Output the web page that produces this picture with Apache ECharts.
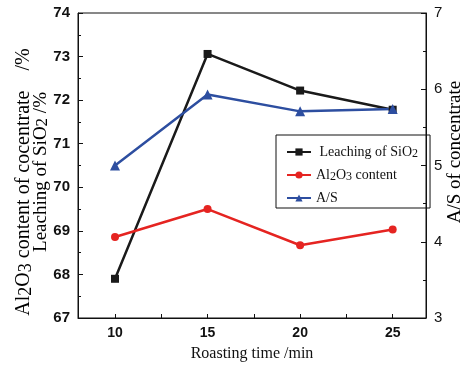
<!DOCTYPE html>
<html>
<head>
<meta charset="utf-8">
<script src="https://cdn.jsdelivr.net/npm/echarts@6/dist/echarts.min.js"></script>
<style>
  html, body { margin: 0; padding: 0; background: #fff; }
  #chart { width: 470px; height: 367px; }
</style>
</head>
<body>
<div id="chart"></div>
<script>
// roasting time (min)
const roastingTime = [10, 15, 20, 25];
// leaching of SiO2 (%), left axis
const leachingSiO2 = [67.9, 73.06, 72.22, 71.78];
// Al2O3 content of concentrate (%), left axis
const al2o3Content = [68.86, 69.5, 68.67, 69.03];
// A/S of concentrate, right axis
const asRatio = [5.0, 5.93, 5.71, 5.74];

const xLabels = [10, 15, 20, 25];
const xTicks = [10, 12.5, 15, 17.5, 20, 22.5, 25];

const serif = '"Liberation Serif", "Times New Roman", serif';
const sans = '"Liberation Sans", Arial, sans-serif';

function subStyles(size) {
  return {
    n: { fontFamily: serif, fontSize: size, color: '#111', lineHeight: size + 2 },
    s: { fontFamily: serif, fontSize: size - 2, color: '#111', lineHeight: size - 4, verticalAlign: 'bottom' }
  };
}

function pairs(xs, ys) {
  return xs.map((x, i) => [x, ys[i]]);
}

const chart = echarts.init(document.getElementById('chart'));

// rotated axis titles, centred on where they sit in the figure
const sideTitles = [
  { cx: 24, cy: 182, size: 20, text: '{n|Al}{s|2}{n|O}{s|3}{n| content of cocentrate    /%}' },
  { cx: 41, cy: 172, size: 19, text: '{n|Leaching of SiO}{s|2}{n| /%}' },
  { cx: 455, cy: 152, size: 19, text: '{n|A/S of concentrate}' }
];

const option = {
  animation: false,
  backgroundColor: '#fff',
  grid: {
    left: 78, right: 44, top: 13, bottom: 45,
    show: true, borderColor: '#111', borderWidth: 1
  },
  legend: {
    orient: 'vertical',
    left: 276, top: 135,
    padding: [10, 12, 3, 10],
    itemGap: 8,
    itemWidth: 24, itemHeight: 9,
    borderColor: '#111', borderWidth: 1,
    data: ['Leaching of SiO2', 'Al2O3 content', 'A/S'],
    formatter: function (name) {
      if (name === 'Leaching of SiO2') return '{n| Leaching of SiO}{s|2}';
      if (name === 'Al2O3 content') return '{n|Al}{s|2}{n|O}{s|3}{n| content}';
      return '{n|A/S}';
    },
    textStyle: { rich: subStyles(14) }
  },
  xAxis: {
    type: 'value',
    min: 8, max: 26.8,
    name: 'Roasting time /min',
    nameLocation: 'middle',
    nameGap: 28,
    nameTextStyle: { fontFamily: serif, fontSize: 16, color: '#111' },
    axisLine: { lineStyle: { color: '#111' } },
    axisTick: { inside: true, length: 4, customValues: xTicks, lineStyle: { color: '#111' } },
    axisLabel: {
      customValues: xLabels, margin: 8,
      fontFamily: sans, fontWeight: 'bold', fontSize: 14, color: '#111'
    },
    splitLine: { show: false }
  },
  yAxis: [
    {
      type: 'value',
      min: 67, max: 74, interval: 1,
      axisLine: { show: true, lineStyle: { color: '#111' } },
      axisTick: { show: true, inside: true, length: 5, lineStyle: { color: '#111' } },
      minorTick: { show: true, splitNumber: 2, length: 3, lineStyle: { color: '#111' } },
      axisLabel: { margin: 8, fontFamily: sans, fontWeight: 'bold', fontSize: 15, color: '#111' },
      splitLine: { show: false }
    },
    {
      type: 'value',
      position: 'right',
      min: 3, max: 7, interval: 1,
      axisLine: { show: true, lineStyle: { color: '#111' } },
      axisTick: { show: true, inside: true, length: 5, lineStyle: { color: '#111' } },
      minorTick: { show: true, splitNumber: 2, length: 3, lineStyle: { color: '#111' } },
      axisLabel: { margin: 8, fontFamily: sans, fontSize: 15, color: '#111' },
      splitLine: { show: false }
    }
  ],
  graphic: sideTitles.map(t => ({
    type: 'text',
    x: t.cx, y: t.cy,
    rotation: Math.PI / 2,
    style: { text: t.text, rich: subStyles(t.size), align: 'center', verticalAlign: 'middle' }
  })),
  series: [
    {
      name: 'Leaching of SiO2',
      type: 'line',
      data: pairs(roastingTime, leachingSiO2),
      symbol: 'rect', symbolSize: 8,
      lineStyle: { color: '#1a1a1a', width: 2.5 },
      itemStyle: { color: '#1a1a1a' }
    },
    {
      name: 'Al2O3 content',
      type: 'line',
      data: pairs(roastingTime, al2o3Content),
      symbol: 'circle', symbolSize: 8,
      lineStyle: { color: '#e52421', width: 2.5 },
      itemStyle: { color: '#e52421' }
    },
    {
      name: 'A/S',
      type: 'line',
      yAxisIndex: 1,
      data: pairs(roastingTime, asRatio),
      symbol: 'triangle', symbolSize: 10,
      lineStyle: { color: '#2d4ea0', width: 2.5 },
      itemStyle: { color: '#2d4ea0' }
    }
  ]
};

chart.setOption(option);
</script>
</body>
</html>
